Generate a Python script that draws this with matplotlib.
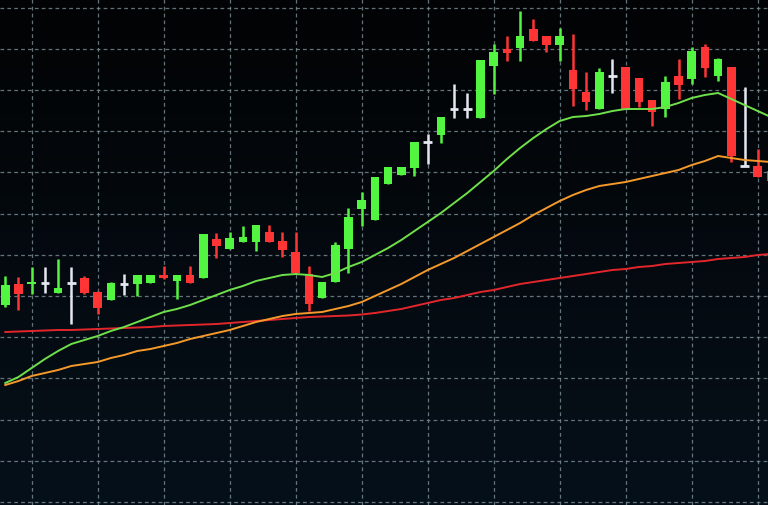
import numpy as np
import matplotlib
matplotlib.use("Agg")
import matplotlib.pyplot as plt

# candle data (price units, no axis labels on the chart)
opens  = [294, 315, 315, 316, 306, 316, 321, 307, 299, 315, 315, 316, 324, 318, 324, 321,
          360, 350, 357, 357, 367, 358, 347, 325, 301, 317, 350, 390, 379, 415, 424, 431,
          457, 464, 490, 490, 481, 533, 550, 551, 570, 563, 554, 529, 507, 490, 523, 532,
          521, 499, 490, 523, 520, 552, 523, 532, 433, 433, 428]
highs  = [323, 322, 332, 332, 340, 332, 323, 308, 317, 325, 324, 324, 333, 324, 333, 365,
          366, 367, 373, 374, 374, 367, 367, 333, 317, 357, 391, 407, 422, 432, 432, 457,
          465, 482, 515, 506, 539, 555, 563, 588, 580, 563, 571, 565, 527, 531, 540, 532,
          521, 499, 523, 540, 552, 555, 541, 532, 512, 450, 435]
lows   = [292, 289, 305, 306, 306, 275, 305, 285, 299, 304, 303, 316, 320, 300, 316, 321,
          341, 350, 357, 348, 357, 342, 325, 288, 301, 317, 326, 373, 379, 415, 424, 423,
          435, 456, 481, 481, 481, 505, 538, 538, 558, 547, 538, 493, 489, 490, 506, 490,
          492, 473, 482, 500, 515, 522, 518, 437, 433, 422, 417]
closes = [314, 305, 317, 316, 311, 316, 306, 291, 316, 315, 324, 324, 321, 324, 316, 365,
          353, 361, 362, 374, 357, 349, 326, 295, 317, 354, 382, 399, 422, 432, 432, 457,
          457, 482, 490, 490, 539, 547, 546, 563, 558, 554, 563, 510, 497, 527, 523, 490,
          497, 487, 517, 514, 548, 531, 540, 443, 433, 422, 418]

ma_fast = [216, 222, 231, 240, 248, 255, 259, 263, 268, 272, 277, 282, 287, 290, 294, 299,
           304, 309, 313, 318, 321, 324, 325, 324, 322, 326, 332, 337, 344, 351, 359, 368,
           377, 386, 396, 406, 417, 428, 440, 451, 461, 470, 478, 482, 483, 485, 488, 490,
           490, 490, 492, 496, 501, 504, 506, 500, 494, 488, 482]
ma_mid  = [214, 218, 223, 226, 229, 233, 235, 237, 241, 244, 248, 250, 253, 256, 260, 263,
           266, 269, 273, 277, 280, 283, 285, 286, 287, 290, 293, 297, 303, 309, 315, 322,
           329, 335, 341, 348, 355, 362, 369, 376, 384, 391, 398, 404, 409, 413, 415, 417,
           420, 423, 426, 429, 434, 438, 443, 441, 439, 438, 437]
ma_slow = [267, 267.5, 268, 268.5, 269, 269, 269.5, 270, 270.5, 271, 271.5, 272, 273, 273.5,
           274, 274.5, 275, 276, 277, 278, 279, 280, 281, 282, 282.5, 283, 283.5, 284.5, 286,
           288, 290, 293, 296, 299, 301, 304, 307, 309, 312, 315, 317, 319, 321, 323, 325,
           327, 329, 330, 332, 333, 335, 336, 337, 338, 340, 341, 342, 344, 345]

UP = "#52f53f"
DOWN = "#ff3434"
DOJI = "#e4e6f0"

o = np.array(opens, float)
h = np.array(highs, float)
l = np.array(lows, float)
c = np.array(closes, float)
idx = np.arange(len(o))

fig = plt.figure(figsize=(7.68, 5.06), dpi=100)
ax = fig.add_axes([0, 0, 1, 1])
ax.set_xlim(-0.4, 57.78)
ax.set_ylim(94, 600)

# dark screen, slightly bluish towards the bottom
grad = np.linspace(0, 1, 256).reshape(-1, 1)
ax.imshow(grad, extent=(-0.4, 57.78, 94, 600), aspect="auto", origin="upper",
          cmap=matplotlib.colors.LinearSegmentedColormap.from_list("bg", ["#020304", "#06101a"]),
          zorder=0)

# dashed grid
for gx in np.arange(2, 58, 5):
    ax.axvline(gx, color="#7d8f96", lw=0.9, ls=(0, (3, 2.5)), alpha=0.8, zorder=1)
for gy in np.arange(97, 600, 41.2):
    ax.axhline(gy, color="#7d8f96", lw=0.9, ls=(0, (3, 2.5)), alpha=0.8, zorder=1)

colors = np.where(c > o, UP, np.where(c < o, DOWN, DOJI))
w = 0.65
ax.vlines(idx, l, h, colors=colors, lw=1.8, zorder=3)
body = np.where(np.abs(c - o) < 2.5, 2.5 * np.sign(c - o + 1e-9), c - o)
mask = c != o
ax.bar(idx[mask], body[mask], bottom=o[mask], width=w, color=colors[mask], lw=0, zorder=4)
ax.hlines(o[~mask], idx[~mask] - w / 2, idx[~mask] + w / 2, colors=DOJI, lw=2, zorder=4)

ax.plot(idx, ma_slow, color="#e3262b", lw=1.4, zorder=5)
ax.plot(idx, ma_mid, color="#f59a2a", lw=1.4, zorder=5)
ax.plot(idx, ma_fast, color="#6ee04a", lw=1.4, zorder=5)

ax.axis("off")
fig.savefig("out.png", dpi=100)
